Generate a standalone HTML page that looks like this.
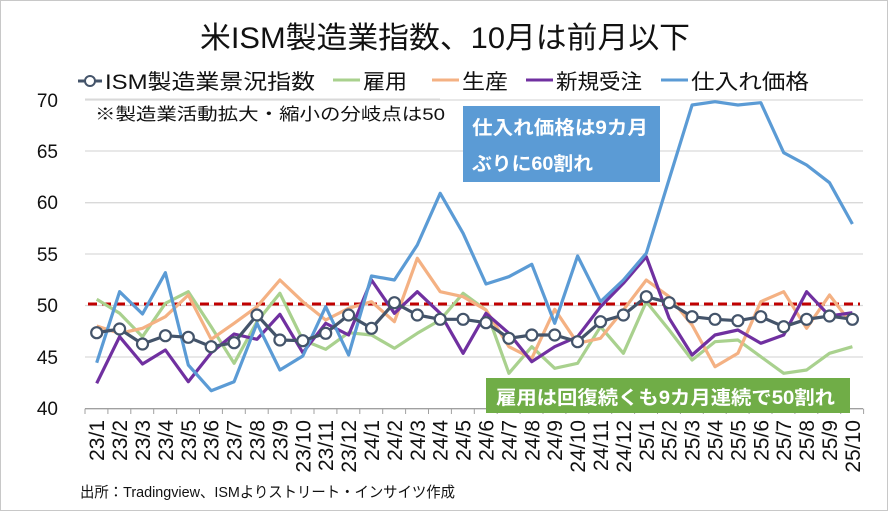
<!DOCTYPE html>
<html><head><meta charset="utf-8"><style>
body{margin:0;background:#fff}
svg{display:block;font-family:"Liberation Sans","Noto Sans CJK JP",sans-serif}
</style></head><body>
<svg width="888" height="511" viewBox="0 0 888 511">
<rect x="0.5" y="0.5" width="887" height="510" fill="#fff" stroke="#c8c8c8"/>
<text x="200" y="48" font-size="30" textLength="490" lengthAdjust="spacingAndGlyphs" fill="#111">米ISM製造業指数、10月は前月以下</text>
<g stroke="#d9d9d9" stroke-width="1.3">
<line x1="85" x2="863" y1="100" y2="100"/><line x1="85" x2="863" y1="151" y2="151"/><line x1="85" x2="863" y1="202.7" y2="202.7"/><line x1="85" x2="863" y1="254" y2="254"/><line x1="85" x2="863" y1="305.5" y2="305.5"/><line x1="85" x2="863" y1="357" y2="357"/>
</g>
<line x1="85" x2="863" y1="408.7" y2="408.7" stroke="#a0a0a0" stroke-width="1.3"/>
<g stroke="#a0a0a0" stroke-width="1" id="ticks"></g>
<g font-size="19" fill="#111" text-anchor="end">
<text x="58" y="107">70</text><text x="58" y="158">65</text><text x="58" y="209">60</text><text x="58" y="261">55</text><text x="58" y="312">50</text><text x="58" y="364">45</text><text x="58" y="415">40</text>
</g>
<line x1="88" x2="860" y1="304" y2="304" stroke="#c00000" stroke-width="3" stroke-dasharray="9,5"/>
<g fill="none" stroke-width="3.2" stroke-linejoin="round" id="series"></g>
<g id="xl" font-size="21" fill="#111"></g>
<rect x="463" y="106" width="197" height="76" fill="#5b9bd5"/>
<text x="472" y="134" font-size="19" font-weight="bold" fill="#fff" textLength="176" lengthAdjust="spacingAndGlyphs">仕入れ価格は9カ月</text>
<text x="472" y="170" font-size="19" font-weight="bold" fill="#fff" textLength="121" lengthAdjust="spacingAndGlyphs">ぶりに60割れ</text>
<rect x="486" y="378" width="364" height="35" fill="#70ad47"/>
<text x="496" y="404" font-size="19" font-weight="bold" fill="#fff" textLength="339" lengthAdjust="spacingAndGlyphs">雇用は回復続くも9カ月連続で50割れ</text>
<g font-size="21" fill="#111">
<line x1="78" x2="102" y1="81" y2="81" stroke="#44546a" stroke-width="3"/><circle cx="90" cy="81" r="5" fill="#fff" stroke="#44546a" stroke-width="2"/>
<text x="105" y="89" textLength="210" lengthAdjust="spacingAndGlyphs">ISM製造業景況指数</text>
<line x1="333" x2="360" y1="80" y2="80" stroke="#a9d18e" stroke-width="3"/><text x="363" y="89" textLength="44" lengthAdjust="spacingAndGlyphs">雇用</text>
<line x1="432" x2="459" y1="80" y2="80" stroke="#f4b183" stroke-width="3"/><text x="462" y="89" textLength="46" lengthAdjust="spacingAndGlyphs">生産</text>
<line x1="526" x2="553" y1="80" y2="80" stroke="#7030a0" stroke-width="3"/><text x="556" y="89" textLength="86" lengthAdjust="spacingAndGlyphs">新規受注</text>
<line x1="661" x2="688" y1="80" y2="80" stroke="#5b9bd5" stroke-width="3"/><text x="691" y="89" textLength="118" lengthAdjust="spacingAndGlyphs">仕入れ価格</text>
</g>
<line x1="85" x2="440" y1="99" y2="99" stroke="#d9d9d9"/>
<text x="95" y="120" font-size="17" fill="#111" textLength="350" lengthAdjust="spacingAndGlyphs">※製造業活動拡大・縮小の分岐点は50</text>
<text x="80" y="497" font-size="15" fill="#111" textLength="375" lengthAdjust="spacingAndGlyphs">出所：Tradingview、ISMよりストリート・インサイツ作成</text>
</svg>
<script>
const X=k=>96.7+22.9*k;
const data={
"#a9d18e":[299.3,313.3,336.7,303.3,291.7,326.7,363.3,321.7,293.3,340,349.3,332.7,335,348.3,333.3,320,293.3,310,373.3,346.7,368.3,363.3,326.7,353.3,301.7,330,360,341.7,340,356.7,373.3,370,353.3,346.7],
"#f4b183":[326,333.3,328.3,316.7,295,339.3,323.3,306.7,280,301.7,320,308.3,301.7,321.7,258.3,291.7,296.7,310,346.7,358.3,309.3,343.3,338.3,310,280,296.7,325,366.7,353.3,301.7,291.7,328.3,295,325],
"#7030a0":[383.3,336.7,364,350,381.7,352.7,334,339.3,314.3,352.7,323.3,335,280,313.3,291.7,313.3,353.3,313.3,333.3,361.7,346.7,336.7,306.7,283.3,256.7,318.3,355,335,330,343.3,335,291.7,316,312.7],
"#5b9bd5":[362.7,291.7,314,272.7,365,390.7,381.7,323.3,370,356,306.7,355,276,280,245,193.3,233.3,284,276.7,264.3,323.3,256,301.7,280,253.3,179,105,101.7,105,102.7,152.7,165,182.7,224],
"#44546a":[332.7,329,344,335.7,337.3,346.7,342.7,315,340,340.7,333.3,315,328.3,302.7,315,319.3,319.3,322.7,338.3,335,335,341.7,321.7,315,296.7,302.7,316.7,319.3,320.7,316.7,326.7,319.3,316,319.3]};
const ns="http://www.w3.org/2000/svg";
const g=document.getElementById("series");
for(const c in data){const p=document.createElementNS(ns,"polyline");p.setAttribute("points",data[c].map((y,k)=>X(k)+","+y).join(" "));p.setAttribute("stroke",c);g.appendChild(p);}
data["#44546a"].forEach((y,k)=>{const c=document.createElementNS(ns,"circle");c.setAttribute("cx",X(k));c.setAttribute("cy",y);c.setAttribute("r",5.5);c.setAttribute("fill","#fff");c.setAttribute("stroke","#44546a");c.setAttribute("stroke-width",2.2);g.appendChild(c);});
const t=document.getElementById("ticks");
for(let k=0;k<=34;k++){const l=document.createElementNS(ns,"line");const x=85+22.9*k;l.setAttribute("x1",x);l.setAttribute("x2",x);l.setAttribute("y1",408.7);l.setAttribute("y2",414);t.appendChild(l);}
const xl=document.getElementById("xl");
for(let k=0;k<34;k++){const yr=23+Math.floor(k/12),m=k%12+1;const e=document.createElementNS(ns,"text");e.setAttribute("transform",`translate(${X(k)+7.5},420) rotate(-90)`);e.setAttribute("text-anchor","end");e.textContent=yr+"/"+m;xl.appendChild(e);}
</script>
</body></html>
